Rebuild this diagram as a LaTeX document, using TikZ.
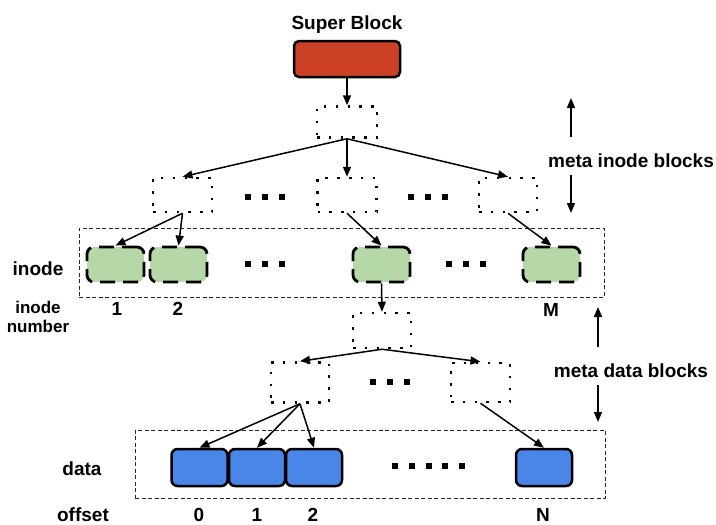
\documentclass[tikz,border=0pt]{standalone}
\usepackage{fontspec}
\setmainfont{Liberation Sans}
\usetikzlibrary{arrows.meta}

\definecolor{sbred}{HTML}{CC4125}
\definecolor{inodegreen}{HTML}{B6D7A8}
\definecolor{datablue}{HTML}{4A86E8}

\newcommand\blkdot{\rule{6pt}{6pt}}
\newcommand\threedots{\blkdot\hspace{10.7pt}\blkdot\hspace{10.7pt}\blkdot}
\newcommand\fivedots{\blkdot\hspace{10.7pt}\blkdot\hspace{10.7pt}\blkdot\hspace{10.7pt}\blkdot\hspace{10.7pt}\blkdot}

\tikzset{
  x=1pt, y=-1pt,
  lbl/.style={font=\fontsize{19}{21}\selectfont\bfseries, inner sep=0pt, anchor=base},
  smalllbl/.style={font=\fontsize{17}{19}\selectfont\bfseries, inner sep=0pt, align=center, anchor=base},
  superbox/.style={draw=black, line width=2.5pt, fill=sbred, rounded corners=5pt,
    minimum width=106pt, minimum height=36pt, inner sep=0pt},
  ptrbox/.style={draw=black, line width=2.5pt, dash pattern=on 2.5pt off 9.3pt,
    inner sep=0pt},
  inodebox/.style={draw=black, line width=2.8pt, dash pattern=on 15pt off 8pt,
    fill=inodegreen, rounded corners=7pt, minimum width=57pt, minimum height=35pt, inner sep=0pt},
  datablock/.style={draw=black, line width=2.5pt, fill=datablue, rounded corners=6pt,
    minimum width=56pt, minimum height=37pt, inner sep=0pt},
  groupbox/.style={draw=black!85, line width=0.8pt, dash pattern=on 4pt off 2.5pt, inner sep=0pt},
  ellipsis/.style={inner sep=0pt, outer sep=0pt},
  link/.style={-{Triangle[length=10pt,width=8pt]}, line width=1.5pt},
}

\begin{document}
\begin{tikzpicture}
\useasboundingbox (0,0) rectangle (716,525);

% group frames
\node[groupbox, minimum width=525pt, minimum height=69pt] (igroup) at (341.5,262.5) {};
\node[groupbox, minimum width=470pt, minimum height=68pt] (dgroup) at (370,464) {};

% super block
\node[lbl] (sbtitle) at (347,29) {Super Block};
\node[superbox] (super) at (347,59) {};

% meta inode blocks
\node[ptrbox, minimum width=60pt, minimum height=31pt] (top) at (347,122) {};
\node[ptrbox, minimum width=59pt, minimum height=34pt] (mi1) at (182.5,195) {};
\node[ptrbox, minimum width=59pt, minimum height=34pt] (mi2) at (347,195) {};
\node[ptrbox, minimum width=58pt, minimum height=34pt] (mi3) at (508,195) {};
\node[ellipsis] (dotsA) at (265,197) {\threedots};
\node[ellipsis] (dotsB) at (428,197) {\threedots};

% inodes
\node[inodebox] (in1) at (115.5,264.5) {};
\node[inodebox] (in2) at (178.5,264.5) {};
\node[inodebox] (in3) at (381.5,264.5) {};
\node[inodebox] (inM) at (551.5,264.5) {};
\node[ellipsis] (dotsC) at (265,264) {\threedots};
\node[ellipsis] (dotsD) at (466,264) {\threedots};

% meta data blocks
\node[ptrbox, minimum width=58pt, minimum height=35pt] (md) at (382,330.5) {};
\node[ptrbox, minimum width=58pt, minimum height=40pt] (mdl) at (300,382.5) {};
\node[ptrbox, minimum width=59pt, minimum height=39pt] (mdr) at (480.5,382.5) {};
\node[ellipsis] (dotsE) at (390,382) {\threedots};

% data blocks
\node[datablock] (d0) at (199.5,467.5) {};
\node[datablock] (d1) at (257,467.5) {};
\node[datablock] (d2) at (314,467.5) {};
\node[datablock] (dN) at (544,467.5) {};
\node[ellipsis] (dotsF) at (428.5,466) {\fivedots};

% labels
\node[lbl] (linode) at (38,275) {inode};
\node[smalllbl] (lnum) at (38,332) {inode\\number};
\node[lbl] (n1) at (117,315) {1};
\node[lbl] (n2) at (178,315) {2};
\node[lbl] (nM) at (551,316) {M};
\node[lbl] (ldata) at (82,475) {data};
\node[lbl] (loff) at (83,521) {offset};
\node[lbl] (o0) at (199,521) {0};
\node[lbl] (o1) at (257,521) {1};
\node[lbl] (o2) at (313,521) {2};
\node[lbl] (oN) at (543,521) {N};
\node[lbl] (lmi) at (631,167) {meta inode blocks};
\node[lbl] (lmd) at (631,377) {meta data blocks};

% tree links
\draw[link] (super.south) -- (top.north);
\draw[link] (top.south) -- (mi1.north);
\draw[link] (top.south) -- (mi2.north);
\draw[link] (top.south) -- (mi3.north);
\draw[link] (mi1.south) -- (in1.north);
\draw[link] (mi1.south) -- (in2.north);
\draw[link] (mi2.south) -- (in3.north);
\draw[link] (mi3.south) -- (inM.north);
\draw[link] (in3.south) -- (md.north);
\draw[link] (md.south) -- (mdl.north);
\draw[link] (md.south) -- (mdr.north);
\draw[link] (mdl.south) -- (d0.north);
\draw[link] (mdl.south) -- (d1.north);
\draw[link] (mdl.south) -- (d2.north);
\draw[link] (mdr.south) -- (dN.north);

% range markers
\coordinate (miUpTail) at (571,137);
\coordinate (miUpHead) at (571,98);
\coordinate (miDnTail) at (571,175);
\coordinate (miDnHead) at (571,213);
\coordinate (mdUpTail) at (598,347);
\coordinate (mdUpHead) at (598,307);
\coordinate (mdDnTail) at (598,385);
\coordinate (mdDnHead) at (598,422);
\draw[link] (miUpTail) -- (miUpHead);
\draw[link] (miDnTail) -- (miDnHead);
\draw[link] (mdUpTail) -- (mdUpHead);
\draw[link] (mdDnTail) -- (mdDnHead);
\end{tikzpicture}
\end{document}
